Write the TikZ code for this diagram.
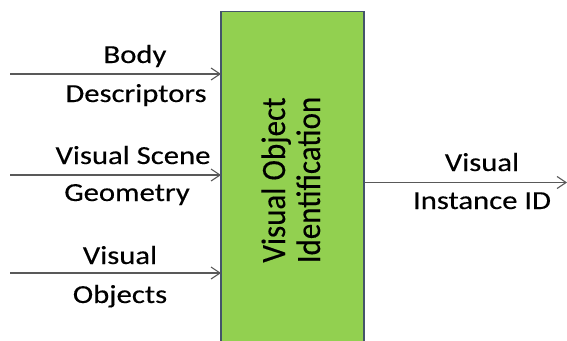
\documentclass[tikz,border=0pt]{standalone}
\usepackage{fontspec}
\setmainfont{Carlito}[FakeBold=0.3]
\usetikzlibrary{arrows.meta}
\definecolor{boxgreen}{HTML}{92D050}
\definecolor{boxedge}{HTML}{44546A}
\definecolor{linegray}{HTML}{595959}
\begin{document}
\begin{tikzpicture}[x=1pt,y=-1pt,
  flow/.style={draw=linegray,line width=1.3pt,
    -{Straight Barb[length=9pt,width=12pt,line width=1.1pt]}},
  lbl/.style={font=\fontsize{26}{30}\selectfont,xscale=1.18,transform shape,inner sep=0pt,anchor=base},
  vlbl/.style={font=\fontsize{31}{36}\selectfont,rotate=90,yscale=1.1,transform shape,inner sep=0pt,anchor=base}]
\useasboundingbox (0,0) rectangle (567,340);
% central block, running off the lower edge
\fill[boxgreen] (221,11.5) rectangle (364,345);
\draw[boxedge,line width=1.2pt] (221,345) -- (221,11.5) -- (364,11.5) -- (364,345);
\coordinate (blkW1) at (221,74);
\coordinate (blkW2) at (221,175);
\coordinate (blkW3) at (221,273);
\coordinate (blkE) at (364.6,182.5);
\coordinate (in1) at (10,74);
\coordinate (in2) at (10,175);
\coordinate (in3) at (10,273);
\coordinate (out) at (567,182.5);
\draw[flow] (in1) -- (blkW1);
\draw[flow] (in2) -- (blkW2);
\draw[flow] (in3) -- (blkW3);
\draw[flow] (blkE) -- (out);
% input labels
\node[lbl] (l1a) at (135,63) {Body};
\node[lbl] (l1b) at (136,102) {Descriptors};
\node[lbl] (l2a) at (133,164) {Visual Scene};
\node[lbl] (l2b) at (127,201) {Geometry};
\node[lbl] (l3a) at (120,264) {Visual};
\node[lbl] (l3b) at (120,303) {Objects};
% output labels
\node[lbl] (o1) at (482,171) {Visual};
\node[lbl] (o2) at (482,209) {Instance ID};
% block title
\node[vlbl] (t1) at (285,180) {Visual Object};
\node[vlbl] (t2) at (320,180) {Identification};
\end{tikzpicture}
\end{document}
